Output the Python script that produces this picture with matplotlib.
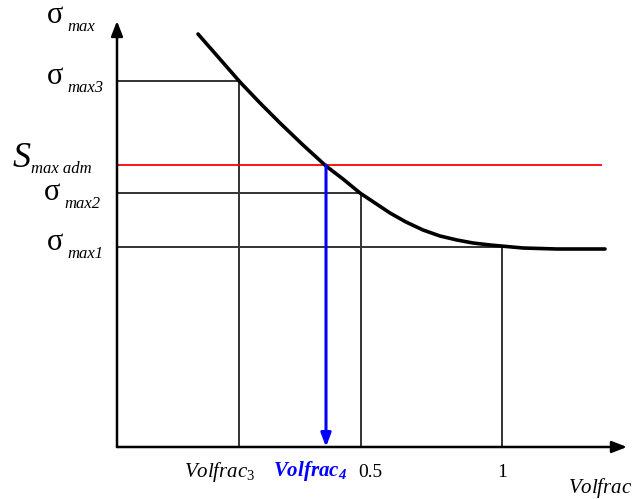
import matplotlib
matplotlib.use("Agg")
import matplotlib.pyplot as plt

plt.rcParams["font.family"] = ["Liberation Serif", "DejaVu Serif"]
plt.rcParams["mathtext.fontset"] = "custom"
plt.rcParams["mathtext.rm"] = "Liberation Serif"
plt.rcParams["mathtext.it"] = "Liberation Serif:italic"
plt.rcParams["mathtext.bf"] = "Liberation Serif:bold:italic"

# Schematic units: origin at the axes corner
curve_x = [0.81, 1.02, 1.23, 1.43, 1.63, 1.86, 2.09, 2.26, 2.43, 2.58, 2.73, 2.89,
           3.06, 3.23, 3.40, 3.56, 3.73, 4.06, 4.40, 4.88]
curve_y = [4.13, 3.89, 3.65, 3.44, 3.24, 3.02, 2.81, 2.68, 2.54, 2.44, 2.34, 2.25,
           2.17, 2.11, 2.07, 2.04, 2.02, 1.99, 1.98, 1.98]

x_axis_end = 5.10
y_axis_end = 4.26

# reference levels (x, y) and the limit
vf3, s3 = 1.22, 3.66
vf_half, s2 = 2.44, 2.54
vf_one, s1 = 3.85, 2.00
vf4, s_adm = 2.09, 2.82
red_end = 4.84

fig = plt.figure(figsize=(6.42, 4.99), dpi=100)
ax = fig.add_axes([0, 0, 1, 1])
ax.set_xlim(-1.17, 5.25)
ax.set_ylim(-0.52, 4.47)
ax.axis("off")

grey = "#333333"

# axes with arrows
ax.annotate("", xy=(x_axis_end, 0), xytext=(0, 0),
            arrowprops=dict(arrowstyle="-|>,head_length=0.9,head_width=0.35",
                            color="black", lw=1.8, shrinkA=0, shrinkB=0))
ax.annotate("", xy=(0, y_axis_end), xytext=(0, 0),
            arrowprops=dict(arrowstyle="-|>,head_length=0.9,head_width=0.35",
                            color="black", lw=1.8, shrinkA=0, shrinkB=0))

# guide lines
for xv, yv in [(vf3, s3), (vf_half, s2), (vf_one, s1)]:
    ax.plot([0, xv], [yv, yv], color=grey, lw=1.4)
    ax.plot([xv, xv], [0, yv], color=grey, lw=1.4)

# admissible stress
ax.plot([0, red_end], [s_adm, s_adm], color="#ff0000", lw=1.3)

# curve
ax.plot(curve_x, curve_y, color="black", lw=2.6, solid_capstyle="round")

# blue arrow
ax.annotate("", xy=(vf4, 0), xytext=(vf4, s_adm),
            arrowprops=dict(arrowstyle="-|>,head_length=0.8,head_width=0.3",
                            color="#0000ff", lw=2.2, shrinkA=0, shrinkB=0))


# y labels
def sig_label(x, y, sub, dx=0.20, dy=-0.08):
    ax.text(x, y, "σ", fontsize=22, ha="left", va="baseline")
    ax.text(x + dx, y + dy, sub, fontsize=12, style="italic", ha="left", va="baseline")


sig_label(-0.70, 4.24, "max")
sig_label(-0.70, 3.63, "max3")
sig_label(-0.73, 2.47, "max2")
sig_label(-0.70, 1.97, "max1")
ax.text(-1.04, 2.80, "S", fontsize=26, style="italic", ha="left", va="baseline")
ax.text(-0.86, 2.74, "max adm", fontsize=12, style="italic", ha="left", va="baseline")

# x labels
ax.text(1.03, -0.30, r"$Volfrac_3$", fontsize=15, ha="center", va="baseline")
ax.text(1.93, -0.29, r"$\mathbf{Volfrac_4}$", fontsize=15, ha="center",
        va="baseline", color="#0000ff")
ax.text(2.53, -0.30, "0.5", fontsize=14, ha="center", va="baseline")
ax.text(vf_one, -0.30, "1", fontsize=14, ha="center", va="baseline")
ax.text(4.83, -0.46, r"$Volfrac$", fontsize=15, ha="center", va="baseline")

fig.savefig("out.png", dpi=100, facecolor="white")
